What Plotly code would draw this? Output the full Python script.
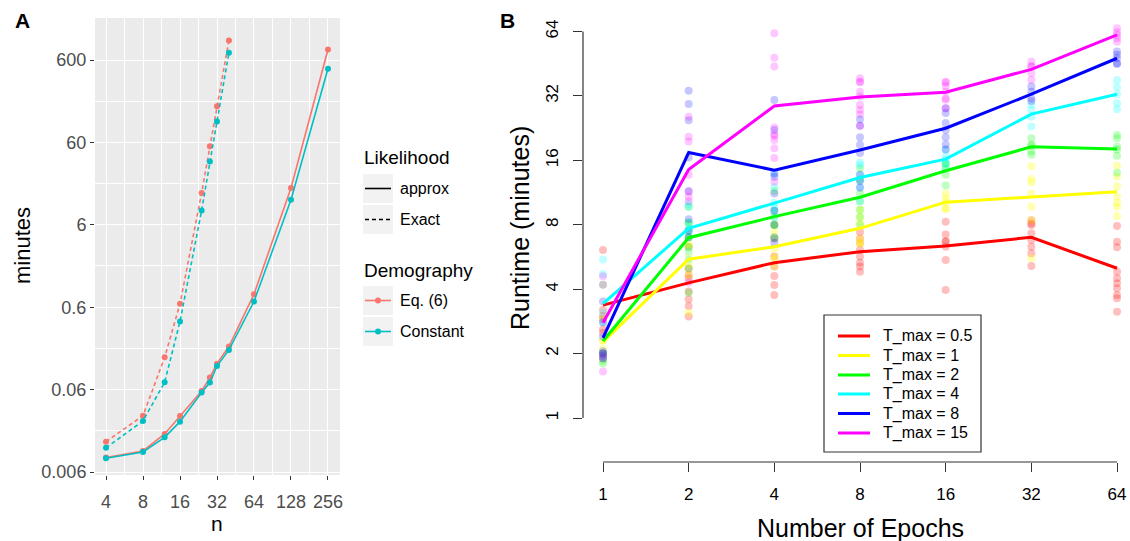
import plotly.graph_objects as go

# ---------------- Panel A data ----------------
n_approx = [4, 8, 12, 16, 24, 28, 32, 40, 64, 128, 256]
approx_eq6 = [0.0090, 0.0108, 0.0174, 0.0288, 0.0578, 0.084, 0.124, 0.200, 0.865, 16.8, 805]
approx_const = [0.0088, 0.0105, 0.0158, 0.0245, 0.0552, 0.073, 0.116, 0.182, 0.704, 12.1, 469]
n_exact = [4, 8, 12, 16, 24, 28, 32, 40]
exact_eq6 = [0.0140, 0.029, 0.148, 0.659, 14.6, 53.8, 165, 1035]
exact_const = [0.0118, 0.025, 0.0738, 0.402, 8.97, 35.3, 108, 733]

a_xticks = [4, 8, 16, 32, 64, 128, 256]
a_yticks = [0.006, 0.06, 0.6, 6, 60, 600]
a_ytext = ["0.006", "0.06", "0.6", "6", "60", "600"]
a_xminor = [5.657, 11.31, 22.63, 45.25, 90.51, 181.0]
a_yminor = [0.019, 0.19, 1.9, 19, 190, 1897]
demo_names = ["Eq. (6)", "Constant"]
demo_colors = ["#F8766D", "#00BFC4"]
lik_names = ["approx", "Exact"]

# ---------------- Panel B data ----------------
epochs = [1, 2, 4, 8, 16, 32, 64]
tmax_names = ["T_max = 0.5", "T_max = 1", "T_max = 2", "T_max = 4", "T_max = 8", "T_max = 15"]
tmax_colors = ["#FF0000", "#FFFF00", "#00FF00", "#00FFFF", "#0000FF", "#FF00FF"]
tmax_rgba = ["rgba(255,0,0,0.25)", "rgba(255,255,0,0.3)", "rgba(0,255,0,0.25)",
             "rgba(0,255,255,0.25)", "rgba(0,0,255,0.22)", "rgba(255,0,255,0.22)"]

line_05 = [3.37, 4.28, 5.32, 5.99, 6.37, 6.99, 5.01]
line_1 = [2.27, 5.52, 6.32, 7.7, 10.2, 10.8, 11.4]
line_2 = [2.29, 6.96, 8.73, 10.76, 14.3, 18.5, 18.1]
line_4 = [3.42, 7.7, 10.1, 13.3, 16.2, 26.3, 32.6]
line_8 = [2.37, 17.4, 14.4, 17.9, 22.6, 32.6, 48.0]
line_15 = [2.79, 14.5, 28.7, 31.6, 33.3, 42.6, 61.7]

pts_05 = [
    [6.1, 3.2, 2.6, 2.9, 2.5, 3.0],
    [6.3, 5.0, 4.66, 3.59, 3.34, 2.98, 4.5, 3.9],
    [7.0, 5.68, 5.1, 4.61, 4.18, 3.76, 6.9],
    [6.9, 6.56, 6.1, 5.68, 5.32, 5.1, 4.83, 7.4],
    [8.27, 6.67, 6.32, 5.48, 3.97, 6.7, 7.2],
    [8.4, 7.98, 7.3, 6.79, 6.32, 5.89, 5.13, 8.1],
    [7.9, 6.67, 6.28, 4.83, 4.5, 4.26, 4.04, 3.76, 3.63, 3.14],
]
pts_1 = [
    [2.9, 2.3, 2.1, 2.0, 2.0, 2.3],
    [6.3, 5.9, 6.5, 5.5, 4.66, 3.1, 7.0, 5.2],
    [7.43, 6.2, 5.68, 5.1, 8.0, 5.51],
    [9.4, 8.7, 8.1, 6.9, 6.56, 6.54],
    [11.2, 10.6, 9.45, 9.55, 10.2],
    [15.0, 13.1, 11.2, 9.7, 8.4, 5.58, 12.6],
    [15.1, 13.4, 12.1, 10.8, 9.7, 8.8, 10.1],
]
pts_2 = [
    [4.2, 2.0, 1.9, 2.0, 1.8, 1.85],
    [9.7, 8.1, 7.0, 6.3, 7.5, 5.0, 3.85, 8.2],
    [11.5, 9.3, 8.7, 8.0, 6.92, 7.96],
    [14.7, 13.0, 11.2, 10.3, 9.4, 8.7, 8.0],
    [15.5, 14.7, 13.7, 12.2, 15.4],
    [20.3, 18.9, 17.6, 17.0, 18.7],
    [21.0, 18.5, 18.0, 16.8, 14.0, 20.3],
]
pts_4 = [
    [5.5, 4.7, 3.1, 2.4, 2.0, 2.8],
    [10.0, 8.2, 7.5, 7.0, 6.0, 5.5, 9.7, 7.7],
    [13.9, 12.0, 10.15, 9.3, 8.7, 7.0, 9.65],
    [15.2, 13.7, 13.0, 12.0, 10.3, 15.6],
    [18.0, 16.7, 15.5, 14.7, 16.1],
    [27.5, 25.6, 23.0, 29.1],
    [38.0, 35.1, 32.6, 29.6, 27.7],
]
pts_8 = [
    [3.5, 2.8, 2.0, 1.9, 1.95, 2.05],
    [33.8, 29.3, 24.6, 16.5, 8.5, 7.5, 11.5, 7.0],
    [30.6, 22.2, 13.9, 13.4, 11.2, 9.3, 8.0, 6.6],
    [24.9, 23.2, 20.5, 18.9, 17.3, 13.7, 11.9, 12.8],
    [28.0, 26.6, 23.9, 22.2, 20.5, 18.0, 19.0],
    [35.4, 33.5, 31.2, 30.3],
    [51.6, 49.8, 48.0, 45.5, 45.1],
]
pts_15 = [
    [4.6, 4.2, 2.4, 2.0, 1.9, 1.65],
    [25.6, 20.6, 19.6, 13.7, 11.4, 10.8, 10.3, 4.3],
    [62.8, 48.3, 43.9, 22.8, 21.2, 19.9, 18.2, 16.4, 12.7, 20.8],
    [38.7, 37.3, 33.5, 31.8, 29.0, 27.5, 26.3, 23.2, 37.1],
    [37.3, 37.0, 35.5, 33.5, 30.7, 28.0, 31.1],
    [46.3, 43.9, 40.8, 38.0, 44.0],
    [66.3, 63.5, 61.7, 59.6, 57.4],
]
b_lines = [line_05, line_1, line_2, line_4, line_8, line_15]
b_points = [pts_05, pts_1, pts_2, pts_4, pts_8, pts_15]
b_yticks = [1, 2, 4, 8, 16, 32, 64]

# ---------------- layout helpers ----------------
W, H = 1130, 541
FONT = "Liberation Sans, Arial, Helvetica, sans-serif"


def px(x):
    return x / W


def py(y):
    return 1 - y / H


fig = go.Figure()

# ---- Panel A traces ----
for name, col, yv in [(demo_names[0], demo_colors[0], approx_eq6),
                      (demo_names[1], demo_colors[1], approx_const)]:
    fig.add_trace(go.Scatter(x=n_approx, y=yv, mode="lines+markers", name=name,
                             line=dict(color=col, width=1.6),
                             marker=dict(color=col, size=6),
                             xaxis="x", yaxis="y", showlegend=False))
for name, col, yv in [(demo_names[0], demo_colors[0], exact_eq6),
                      (demo_names[1], demo_colors[1], exact_const)]:
    fig.add_trace(go.Scatter(x=n_exact, y=yv, mode="lines+markers", name=name + " exact",
                             line=dict(color=col, width=1.6, dash="4px,3px"),
                             marker=dict(color=col, size=6),
                             xaxis="x", yaxis="y", showlegend=False))

# ---- Panel B traces: points then lines ----
for name, rgba, pts in zip(tmax_names, tmax_rgba, b_points):
    xs, ys = [], []
    for e, col in zip(epochs, pts):
        xs += [e] * len(col)
        ys += col
    fig.add_trace(go.Scatter(x=xs, y=ys, mode="markers", name=name + " runs",
                             marker=dict(color=rgba, size=8, line=dict(width=0)),
                             xaxis="x2", yaxis="y2", showlegend=False,
                             cliponaxis=False))
for name, col, yv in zip(tmax_names, tmax_colors, b_lines):
    fig.add_trace(go.Scatter(x=epochs, y=yv, mode="lines", name=name,
                             line=dict(color=col, width=3),
                             xaxis="x2", yaxis="y2", showlegend=False,
                             cliponaxis=False))

shapes = []
annotations = []

# Panel A background
shapes.append(dict(type="rect", xref="x domain", yref="y domain", x0=0, x1=1, y0=0, y1=1,
                   fillcolor="#EBEBEB", line=dict(width=0), layer="below"))

# Panel B axis lines (span first to last tick, like base R)
shapes.append(dict(type="line", xref="x2", yref="paper", x0=epochs[0], x1=epochs[-1],
                   y0=py(462), y1=py(462), line=dict(color="#333333", width=1.2)))
shapes.append(dict(type="line", xref="paper", yref="y2", x0=px(583), x1=px(583),
                   y0=b_yticks[0], y1=b_yticks[-1], line=dict(color="#333333", width=1.2)))

# ---- Panel A manual legend ----
annotations.append(dict(text="Likelihood", x=px(362), y=py(158), xref="paper", yref="paper",
                        xanchor="left", yanchor="middle", showarrow=False,
                        font=dict(size=19, color="black", family=FONT)))
annotations.append(dict(text="Demography", x=px(362), y=py(270), xref="paper", yref="paper",
                        xanchor="left", yanchor="middle", showarrow=False,
                        font=dict(size=19, color="black", family=FONT)))
lik_rows = [188.5, 219.5]
demo_rows = [300.5, 331.5]
for i, (nm, yy) in enumerate(zip(lik_names, lik_rows)):
    shapes.append(dict(type="rect", xref="paper", yref="paper", x0=px(363), x1=px(393),
                       y0=py(yy - 14.5), y1=py(yy + 14.5), fillcolor="#F2F2F2",
                       line=dict(width=0)))
    shapes.append(dict(type="line", xref="paper", yref="paper", x0=px(365), x1=px(391),
                       y0=py(yy), y1=py(yy),
                       line=dict(color="black", width=1.6, dash="solid" if i == 0 else "4px,3px")))
    annotations.append(dict(text=nm, x=px(398), y=py(yy), xref="paper", yref="paper",
                            xanchor="left", yanchor="middle", showarrow=False,
                            font=dict(size=16, color="black", family=FONT)))
for nm, col, yy in zip(demo_names, demo_colors, demo_rows):
    shapes.append(dict(type="rect", xref="paper", yref="paper", x0=px(363), x1=px(393),
                       y0=py(yy - 14.5), y1=py(yy + 14.5), fillcolor="#F2F2F2",
                       line=dict(width=0)))
    shapes.append(dict(type="line", xref="paper", yref="paper", x0=px(365), x1=px(391),
                       y0=py(yy), y1=py(yy), line=dict(color=col, width=1.6)))
    shapes.append(dict(type="circle", xref="paper", yref="paper", x0=px(375), x1=px(381),
                       y0=py(yy + 3), y1=py(yy - 3), fillcolor=col, line=dict(width=0)))
    annotations.append(dict(text=nm, x=px(398), y=py(yy), xref="paper", yref="paper",
                            xanchor="left", yanchor="middle", showarrow=False,
                            font=dict(size=16, color="black", family=FONT)))

# ---- Panel B manual legend ----
shapes.append(dict(type="rect", xref="paper", yref="paper", x0=px(824), x1=px(981),
                   y0=py(452), y1=py(315), fillcolor="white",
                   line=dict(color="#333333", width=1.2)))
b_rows = [336, 355.5, 375, 394, 413.5, 433]
for nm, col, yy in zip(tmax_names, tmax_colors, b_rows):
    shapes.append(dict(type="line", xref="paper", yref="paper", x0=px(838), x1=px(870),
                       y0=py(yy), y1=py(yy), line=dict(color=col, width=3)))
    annotations.append(dict(text=nm, x=px(881), y=py(yy), xref="paper", yref="paper",
                            xanchor="left", yanchor="middle", showarrow=False,
                            font=dict(size=16, color="black", family=FONT)))

# ---- titles / panel letters ----
annotations += [
    dict(text="<b>A</b>", x=px(22), y=py(20), xref="paper", yref="paper", showarrow=False,
         xanchor="center", yanchor="middle", font=dict(size=21, color="black", family=FONT)),
    dict(text="<b>B</b>", x=px(507), y=py(20), xref="paper", yref="paper", showarrow=False,
         xanchor="center", yanchor="middle", font=dict(size=21, color="black", family=FONT)),
    dict(text="minutes", x=px(22), y=py(246), xref="paper", yref="paper", showarrow=False,
         textangle=-90, xanchor="center", yanchor="middle",
         font=dict(size=22, color="black", family=FONT)),
    dict(text="n", x=px(217), y=py(523), xref="paper", yref="paper", showarrow=False,
         xanchor="center", yanchor="middle", borderpad=0,
         font=dict(size=21, color="black", family=FONT)),
    dict(text="Runtime (minutes)", x=px(520), y=py(228), xref="paper", yref="paper",
         showarrow=False, textangle=-90, xanchor="center", yanchor="middle",
         font=dict(size=25, color="black", family=FONT)),
    dict(text="Number of Epochs", x=px(860), y=py(528), xref="paper", yref="paper",
         showarrow=False, xanchor="center", yanchor="middle",
         font=dict(size=25, color="black", family=FONT)),
]

fig.update_layout(
    width=W, height=H, autosize=False,
    margin=dict(l=0, r=0, t=0, b=0, pad=0, autoexpand=False),
    paper_bgcolor="white", plot_bgcolor="rgba(0,0,0,0)",
    font=dict(family=FONT),
    showlegend=False,
    shapes=shapes, annotations=annotations,
    xaxis=dict(type="log", domain=[px(95), px(340)], range=[0.5125, 2.506],
               tickvals=a_xticks, ticktext=[str(v) for v in a_xticks],
               ticks="outside", ticklen=4, tickwidth=1.2, tickcolor="#333333",
               ticklabelstandoff=6, automargin=False,
               tickfont=dict(size=18, color="#4D4D4D", family=FONT),
               showgrid=True, gridcolor="white", gridwidth=1.4,
               minor=dict(tickvals=a_xminor, showgrid=True, gridcolor="white",
                          gridwidth=0.6, ticks=""),
               zeroline=False, showline=False, anchor="y"),
    yaxis=dict(type="log", domain=[py(475), py(18)], range=[-2.258, 3.288],
               tickvals=a_yticks, ticktext=a_ytext, automargin=False,
               ticks="outside", ticklen=4, tickwidth=1.2, tickcolor="#333333",
               tickfont=dict(size=18, color="#4D4D4D", family=FONT),
               showgrid=True, gridcolor="white", gridwidth=1.4,
               minor=dict(tickvals=a_yminor, showgrid=True, gridcolor="white",
                          gridwidth=0.6, ticks=""),
               zeroline=False, showline=False, anchor="x"),
    xaxis2=dict(type="log", domain=[px(583), 1.0], range=[-0.0703, 1.8518],
                tickvals=epochs, ticktext=[str(v) for v in epochs],
                ticks="outside", ticklen=9, tickwidth=1.2, tickcolor="#333333",
                ticklabelstandoff=8, ticklabeloverflow="allow", automargin=False,
                tickfont=dict(size=17, color="black", family=FONT),
                showgrid=False, zeroline=False, showline=False, anchor="y2"),
    yaxis2=dict(type="log", domain=[py(462), py(20)], range=[-0.2056, 1.860],
                tickvals=b_yticks, ticktext=[str(v) for v in b_yticks],
                ticks="outside", ticklen=9, tickwidth=1.2, tickcolor="#333333",
                tickangle=-90, ticklabelstandoff=8, automargin=False,
                tickfont=dict(size=17, color="black", family=FONT),
                showgrid=False, zeroline=False, showline=False, anchor="x2"),
)

fig.write_html(
    "out.html",
    config={"displayModeBar": False, "responsive": False},
    post_script=("document.documentElement.style.margin='0px';"
                 "document.body.style.margin='0px';"
                 "document.body.style.padding='0px';"
                 "document.documentElement.style.overflow='hidden';"
                 "document.body.style.overflow='hidden';"),
)
